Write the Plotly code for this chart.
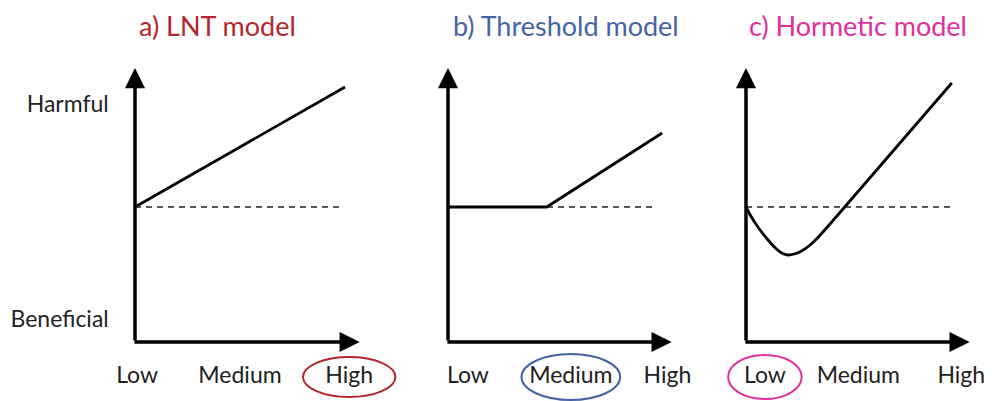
import plotly.graph_objects as go

# ---------------- data ----------------
panel_titles = ["a) LNT model", "b) Threshold model", "c) Hormetic model"]
title_colors = ["#b3262e", "#4563a3", "#e0309e"]
dose_labels = ["Low", "Medium", "High"]
highlighted = ["High", "Medium", "Low"]
response_labels = ["Harmful", "Beneficial"]
response_label_pos = [1.01, -1.14]

# label positions along the dose axis for each panel
label_pos_a = [0.02, 1.0, 2.04]
label_pos_b = [0.19, 1.17, 2.09]
label_pos_c = [0.18, 1.07, 2.05]

# dose-response curves (dose, response relative to baseline)
lnt_dose = [0.0, 2.0]
lnt_resp = [0.0, 1.2]
thr_dose = [0.0, 0.94, 2.04]
thr_resp = [0.0, 0.0, 0.74]
hor_dose = [0.0, 0.04, 0.12, 0.21, 0.28, 0.34, 0.40, 0.46, 0.53, 0.61, 0.69, 0.80, 0.94, 1.96]
hor_resp = [0.0, -0.08, -0.21, -0.33, -0.41, -0.46, -0.48, -0.47, -0.44, -0.38, -0.30, -0.17, 0.0, 1.24]

# baseline (dashed) extents and axis extents
baseline_end = [1.98, 1.97, 1.98]
xaxis_tip = [2.14, 2.13, 2.13]
yaxis_tip = 1.39
yaxis_bottom = -1.35

# ---------------- layout helpers ----------------
PAGE_OFF = 8            # default page body margin
W, H = 992 - PAGE_OFF, 401 - PAGE_OFF
UX, UY = 105.0, 100.0   # px per unit
OY = 207.0 - PAGE_OFF   # baseline pixel row
origins_px = [135 - PAGE_OFF, 448 - PAGE_OFF, 746 - PAGE_OFF]
domains_px = [(0, 402), (402, 697), (697, W)]
ellipse_half = [(0.44, 0.20), (0.47, 0.23), (0.35, 0.22)]
FONT = "Lato"

curves = [(lnt_dose, lnt_resp), (thr_dose, thr_resp), (hor_dose, hor_resp)]
label_pos = [label_pos_a, label_pos_b, label_pos_c]

fig = go.Figure()
layout = dict(
    width=W, height=H, margin=dict(l=0, r=0, t=0, b=0),
    paper_bgcolor="white", plot_bgcolor="white", showlegend=False,
    font=dict(family=FONT, size=23, color="#222222"),
)
annotations = []
shapes = []
yrange = [-(H - OY) / UY, OY / UY]
label_y = -1.70
title_y = 1.82

for i in range(3):
    xa = "x" if i == 0 else f"x{i+1}"
    ya = "y" if i == 0 else f"y{i+1}"
    xkey = "xaxis" if i == 0 else f"xaxis{i+1}"
    ykey = "yaxis" if i == 0 else f"yaxis{i+1}"
    d0, d1 = domains_px[i]
    ox = origins_px[i]
    layout[xkey] = dict(domain=[d0 / W, d1 / W], range=[(d0 - ox) / UX, (d1 - ox) / UX],
                        visible=False, anchor=ya, fixedrange=True)
    layout[ykey] = dict(domain=[0, 1], range=yrange, visible=False, anchor=xa, fixedrange=True)

    # dashed baseline
    fig.add_trace(go.Scatter(x=[0, baseline_end[i]], y=[0, 0], mode="lines",
                             line=dict(color="#222222", width=1.6, dash="6px,5px"),
                             xaxis=xa, yaxis=ya, hoverinfo="skip"))
    # curve
    dx, dy = curves[i]
    fig.add_trace(go.Scatter(x=dx, y=dy, mode="lines",
                             line=dict(color="black", width=2.8,
                                       shape="spline" if i == 2 else "linear", smoothing=0.8),
                             xaxis=xa, yaxis=ya, hoverinfo="skip"))
    # dose labels
    fig.add_trace(go.Scatter(x=label_pos[i], y=[label_y] * 3, mode="text", text=dose_labels,
                             textposition="middle center", cliponaxis=False,
                             textfont=dict(family=FONT, size=23, color="#222222"),
                             xaxis=xa, yaxis=ya, hoverinfo="skip"))
    # axes with arrowheads
    annotations.append(dict(x=0, y=yaxis_tip, ax=0, ay=yaxis_bottom, xref=xa, yref=ya,
                            axref=xa, ayref=ya, text="", showarrow=True, arrowhead=2,
                            arrowsize=1.15, arrowwidth=3.5, arrowcolor="black"))
    annotations.append(dict(x=xaxis_tip[i], y=yaxis_bottom, ax=-0.02, ay=yaxis_bottom, xref=xa, yref=ya,
                            axref=xa, ayref=ya, text="", showarrow=True, arrowhead=2,
                            arrowsize=1.15, arrowwidth=3.5, arrowcolor="black"))
    # title
    tx = [0.79, 1.12, 1.07][i]
    annotations.append(dict(x=tx, y=title_y, xref=xa, yref=ya, text=panel_titles[i], showarrow=False,
                            font=dict(family=FONT, size=27, color=title_colors[i])))
    # highlight ellipse
    k = dose_labels.index(highlighted[i])
    cx = label_pos[i][k]
    hw, hh = ellipse_half[i]
    shapes.append(dict(type="circle", xref=xa, yref=ya, x0=cx - hw, x1=cx + hw,
                       y0=label_y - hh, y1=label_y + hh,
                       line=dict(color=title_colors[i], width=2)))

# response labels (panel a only)
fig.add_trace(go.Scatter(x=[-0.25, -0.25], y=response_label_pos, mode="text", text=response_labels,
                         textposition="middle left", cliponaxis=False,
                         textfont=dict(family=FONT, size=23, color="#222222"),
                         xaxis="x", yaxis="y", hoverinfo="skip"))

layout["annotations"] = annotations
layout["shapes"] = shapes
fig.update_layout(**layout)
fig.write_html("out.html")
